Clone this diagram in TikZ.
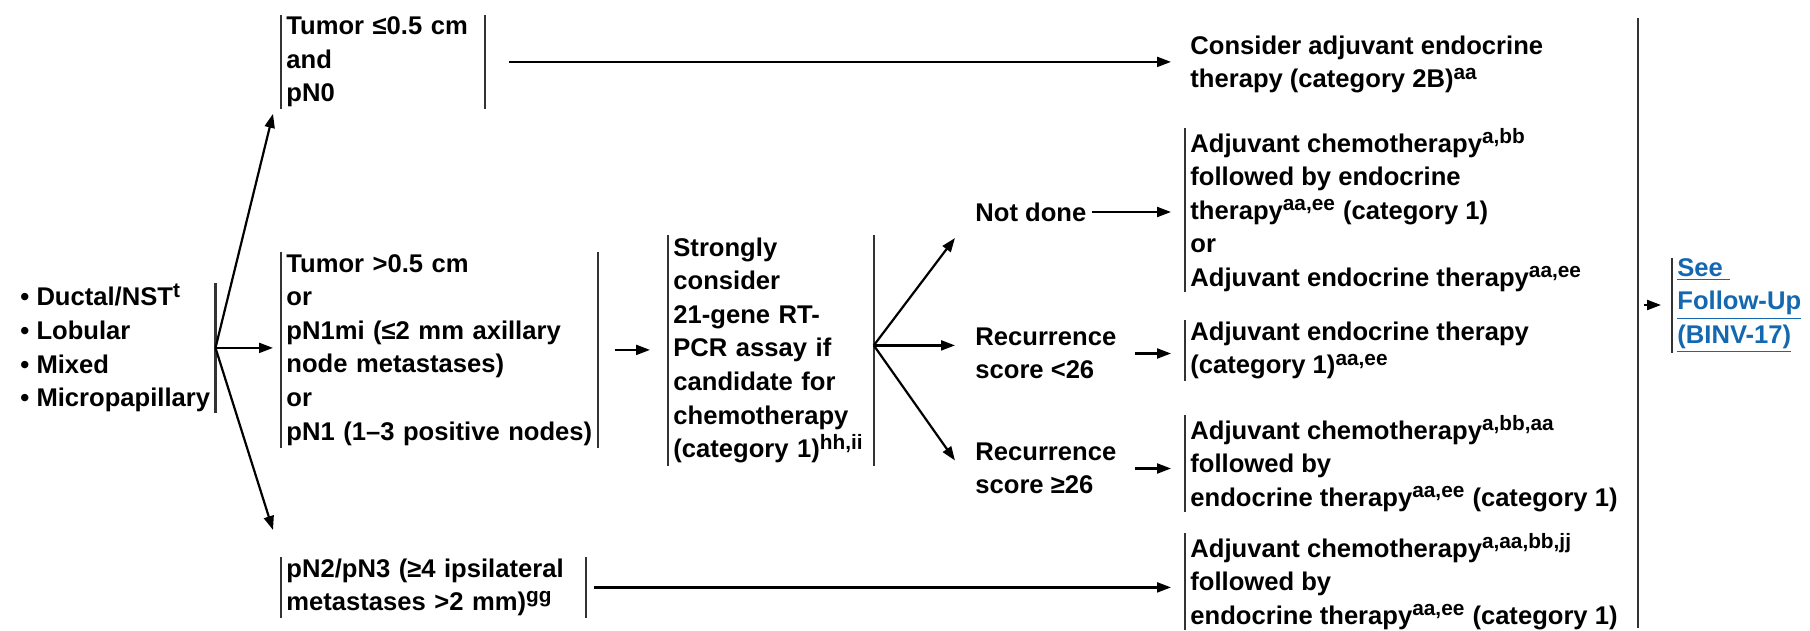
\documentclass[tikz,border=0pt]{standalone}
\usepackage{fontspec}
\setmainfont{Liberation Sans}
\usepackage{tikz}
\usetikzlibrary{arrows.meta,positioning,calc}
\definecolor{linkblue}{RGB}{20,104,176}
\newcommand{\fnref}[1]{\textsuperscript{\fontsize{10.4}{10}\selectfont #1}}
\tikzstyle{txt}=[font=\bfseries\fontsize{12.8}{16.8}\selectfont,align=left,inner xsep=2.5pt,inner ysep=0pt]
\tikzstyle{bracket}=[txt,anchor=north west]
\tikzstyle{bar}=[line width=1.1pt,draw=black!80]
\tikzstyle{arr}=[line width=1.1pt,-{Triangle[length=7pt,width=5pt]}]

\begin{document}
\begin{tikzpicture}[x=0.5pt,y=-0.5pt]
\useasboundingbox (0,0) rectangle (1810,631);
% histology
\node[txt,anchor=north east,minimum height=64.5pt] (types) at (215.5,283)
  {\textbullet~Ductal/NST\fnref{t}\\\textbullet~Lobular\\\textbullet~Mixed\\\textbullet~Micropapillary};
% tumor / node status
\node[bracket,text width=96.5pt,minimum height=46.5pt] (tumA) at (281,15) {Tumor ≤0.5 cm\\and\\pN0};
\node[bracket,text width=153pt,minimum height=97.5pt] (tumB) at (281,252)
  {Tumor >0.5 cm\\or\\pN1mi (≤2 mm axillary\\node metastases)\\or\\pN1 (1–3 positive nodes)};
\node[bracket,text width=147pt,minimum height=30pt] (pnTwo) at (281,557)
  {pN2/pN3 (≥4 ipsilateral\\metastases >2 mm)\fnref{gg}};
\node[bracket,text width=97.5pt,minimum height=115pt] (assay) at (668,235)
  {Strongly\\consider\\21-gene RT-\\PCR assay if\\candidate for\\chemotherapy\\(category 1)\fnref{hh,ii}};
% assay results
\node[txt,anchor=west] (notdone) at (970,212) {Not done};
\node[txt,anchor=west] (low26) at (970,353.5) {Recurrence\\score <26};
\node[txt,anchor=west] (high26) at (970,468.5) {Recurrence\\score ≥26};
% treatment
\node[txt,anchor=west] (consider) at (1185,64.5) {Consider adjuvant endocrine\\therapy (category 2B)\fnref{aa}};
\node[bracket,minimum height=81pt] (dBox) at (1185,128)
  {Adjuvant chemotherapy\fnref{a,bb}\\followed by endocrine\\therapy\fnref{aa,ee} (category 1)\\or\\Adjuvant endocrine therapy\fnref{aa,ee}};
\node[bracket,minimum height=30pt] (eBox) at (1185,320)
  {Adjuvant endocrine therapy\\(category 1)\fnref{aa,ee}};
\node[bracket,minimum height=46.5pt] (fBox) at (1185,415)
  {Adjuvant chemotherapy\fnref{a,bb,aa}\\followed by\\endocrine therapy\fnref{aa,ee} (category 1)};
\node[bracket,minimum height=47.5pt] (gBox) at (1185,533)
  {Adjuvant chemotherapy\fnref{a,aa,bb,jj}\\followed by\\endocrine therapy\fnref{aa,ee} (category 1)};
% follow-up
\coordinate (outTop) at (1638,18);
\coordinate (outBot) at (1638,628);
\coordinate (outMid) at (1638,305);
\node[bracket,text=linkblue,minimum height=47pt] (follow) at (1672,258)
  {\underline{See\ }\\\underline{Follow-Up}\\\underline{(BINV-17)}};

% brackets
\draw[bar] (types.north east) -- (types.south east);
\foreach \n in {tumA,tumB,pnTwo,assay}
  \draw[bar] (\n.north west) -- (\n.south west) (\n.north east) -- (\n.south east);
\foreach \n in {dBox,eBox,fBox,gBox,follow}
  \draw[bar] (\n.north west) -- (\n.south west);
\draw[bar] (outTop) -- (outBot);

% arrows
\draw[arr] (types.east) -- ([xshift=-4pt,yshift=-2.5pt]tumA.south west);
\draw[arr,shorten >=4pt] (types.east) -- (types.east -| tumB.west);
\draw[arr] (types.east) -- ([xshift=-4pt,yshift=13.5pt]pnTwo.north west);
\draw[arr,shorten <=12pt,shorten >=7pt] (tumA.east) -- (tumA.east -| consider.west);
\draw[arr,shorten <=8.5pt,shorten >=9pt] (tumB.east) -- (tumB.east -| assay.west);
\coordinate (fork) at ([yshift=2.5pt]assay.east);
\draw[arr] (fork) -- ([xshift=-7.5pt,yshift=-13pt]notdone.west);
\draw[arr,shorten >=7.5pt] (fork) -- (fork -| low26.west);
\draw[arr] (fork) -- ([xshift=-7.5pt,yshift=4pt]high26.west);
\draw[arr,shorten >=7pt] (notdone.east) -- (notdone.east -| dBox.west);
\draw[arr,shorten <=6.5pt,shorten >=7pt] (low26.east) -- (low26.east -| eBox.west);
\draw[arr,shorten <=6.5pt,shorten >=7pt] (high26.east) -- (high26.east -| fBox.west);
\draw[arr,shorten <=4pt,shorten >=7pt] (pnTwo.east) -- (pnTwo.east -| gBox.west);
\draw[arr,shorten <=3pt,shorten >=5.5pt] (outMid) -- (outMid -| follow.west);
\end{tikzpicture}
\end{document}
